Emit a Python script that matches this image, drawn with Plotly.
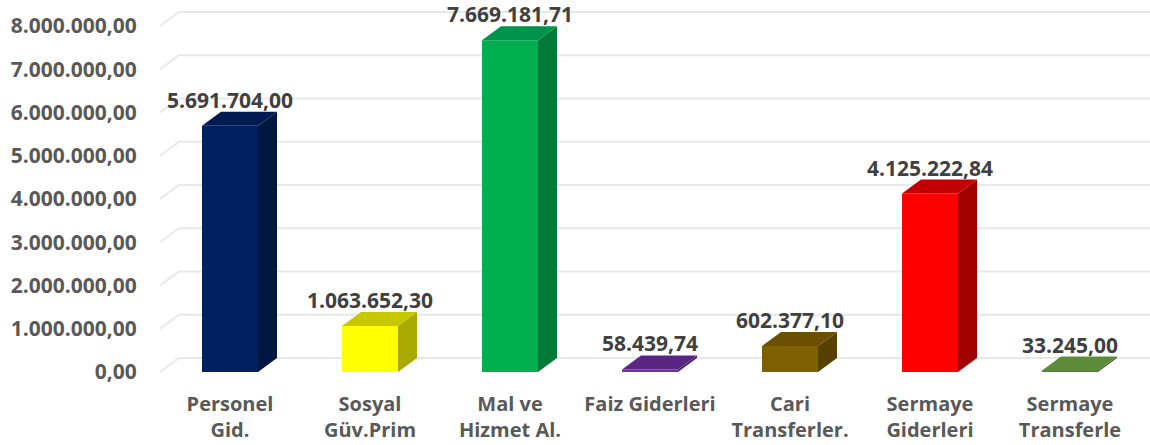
import plotly.graph_objects as go

categories = ["Personel<br>Gid.", "Sosyal<br>Güv.Prim", "Mal ve<br>Hizmet Al.", "Faiz Giderleri",
              "Cari<br>Transferler.", "Sermaye<br>Giderleri", "Sermaye<br>Transferle"]
values = [5691704.00, 1063652.30, 7669181.71, 58439.74, 602377.10, 4125222.84, 33245.00]
front_colors = ["#002060", "#FFFF00", "#00B050", "#7030A0", "#7F6000", "#FF0000", "#548235"]
side_colors = ["#00173F", "#A9A900", "#007A37", "#4E2270", "#564100", "#A30000", "#3B5C25"]
top_colors = ["#001B52", "#C8C800", "#00944A", "#5A2682", "#6A5000", "#C20000", "#5C8C3A"]
tick_values = [0, 1000000, 2000000, 3000000, 4000000, 5000000, 6000000, 7000000, 8000000]


def tr_fmt(v):
    s = f"{v:,.2f}"
    return s.replace(",", "X").replace(".", ",").replace("X", ".")


PX_PER_M = 43.25          # pixels per 1,000,000
HALF_W = 0.2              # half bar width in category units
DX = 19 / 140.0           # depth offset, x (category units)
DY = 14 / PX_PER_M * 1e6  # depth offset, y (value units)

fig = go.Figure()

# 3D-style gridlines (front point -> back wall -> horizontal), below traces
X0 = -0.5
X_END = 6.7
for t in tick_values:
    fig.add_shape(type="path", xref="x", yref="y", layer="below",
                  path=f"M {X0},{t} L {X0 + DX},{t + DY} L {X_END},{t + DY}",
                  line=dict(color="#E8E8E8", width=2))

xs = list(range(len(values)))

# front faces
fig.add_trace(go.Bar(x=xs, y=values, width=2 * HALF_W, marker=dict(color=front_colors, line=dict(width=0)),
                     hoverinfo="skip", showlegend=False))

# side faces
for i, v in enumerate(values):
    fig.add_trace(go.Scatter(
        x=[i + HALF_W, i + HALF_W + DX, i + HALF_W + DX, i + HALF_W, i + HALF_W],
        y=[0, DY, v + DY, v, 0], fill="toself", fillcolor=side_colors[i],
        mode="lines", line=dict(width=0, color=side_colors[i]), hoverinfo="skip", showlegend=False))

# top faces
for i, v in enumerate(values):
    fig.add_trace(go.Scatter(
        x=[i - HALF_W, i + HALF_W, i + HALF_W + DX, i - HALF_W + DX, i - HALF_W],
        y=[v, v, v + DY, v + DY, v], fill="toself", fillcolor=top_colors[i],
        mode="lines", line=dict(width=0, color=top_colors[i]), hoverinfo="skip", showlegend=False))

# data labels
for i, v in enumerate(values):
    fig.add_annotation(x=i, y=v, text=tr_fmt(v), showarrow=False, yanchor="middle", yshift=26,
                       font=dict(family="Open Sans", size=21, color="#404040", weight="bold"))

fig.update_layout(
    width=1150, height=445,
    margin=dict(l=150, r=0, t=0, b=65),
    paper_bgcolor="white", plot_bgcolor="white",
    barmode="overlay",
    hovermode=False,
    xaxis=dict(range=[-0.5714, 6.5714], tickvals=xs, ticktext=categories, showgrid=False, zeroline=False,
               showline=False, ticks="outside", ticklen=6, tickcolor="rgba(0,0,0,0)", fixedrange=True,
               tickfont=dict(family="Open Sans", size=20, color="#595959", weight="bold")),
    yaxis=dict(range=[-8 / PX_PER_M * 1e6, 372 / PX_PER_M * 1e6], tickvals=tick_values,
               ticktext=[tr_fmt(t) for t in tick_values], showgrid=False, zeroline=False, showline=False,
               ticks="outside", ticklen=8, tickcolor="rgba(0,0,0,0)", fixedrange=True,
               tickfont=dict(family="Open Sans", size=21, color="#595959", weight="bold")),
)

fig.write_html("out.html", config={"displayModeBar": False},
               post_script="document.body.style.margin='0';document.body.style.overflow='hidden';")
